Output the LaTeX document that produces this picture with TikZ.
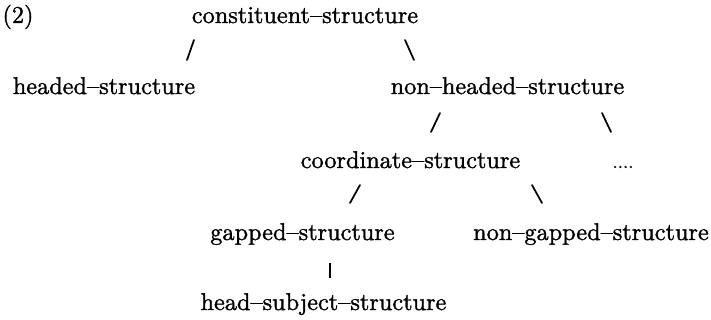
\documentclass[tikz,border=0pt]{standalone}
\usepackage{fontspec}
\setmainfont{lmroman10-regular.otf}
\newfontface\heavyface{lmroman10-regular.otf}[FakeBold=1.3]
\begin{document}
\begin{tikzpicture}[x=0.75pt,y=-0.75pt,
  lbl/.style={anchor=base,inner sep=0pt,font=\heavyface\fontsize{18.2}{22}\selectfont},
  dotlbl/.style={anchor=base,inner sep=0pt,font=\heavyface\fontsize{14}{16}\selectfont},
  branch/.style={line width=1.3pt,line cap=round},
  stem/.style={line width=1.7pt}]
\useasboundingbox[fill=white] (0,0) rectangle (711,320);
% nodes
\node[lbl] (num) at (18,23) {(2)};
\node[lbl] (cs) at (305,23) {constituent\textendash structure};
\node[lbl] (hs) at (104,94) {headed\textendash structure};
\node[lbl] (nhs) at (507.5,94) {non\textendash headed\textendash structure};
\node[lbl] (cos) at (410.5,168) {coordinate\textendash structure};
\node[dotlbl] (dots) at (623,168) {....};
\node[lbl] (gs) at (302.5,240) {gapped\textendash structure};
\node[lbl] (ngs) at (591,240) {non\textendash gapped\textendash structure};
\node[lbl] (hss) at (323.5,310) {head\textendash subject\textendash structure};
% branch marks
\coordinate (a1) at (194,40); \coordinate (a2) at (187,60);
\coordinate (b1) at (405,40); \coordinate (b2) at (414,60);
\coordinate (c1) at (440,113); \coordinate (c2) at (431,132);
\coordinate (d1) at (602,113); \coordinate (d2) at (611,132);
\coordinate (e1) at (360,185); \coordinate (e2) at (350,203);
\coordinate (f1) at (532,185); \coordinate (f2) at (542,203);
\coordinate (g1) at (330,263); \coordinate (g2) at (330,278);
\draw[branch] (a1) -- (a2);
\draw[branch] (b1) -- (b2);
\draw[branch] (c1) -- (c2);
\draw[branch] (d1) -- (d2);
\draw[branch] (e1) -- (e2);
\draw[branch] (f1) -- (f2);
\draw[stem] (g1) -- (g2);
\end{tikzpicture}
\end{document}
